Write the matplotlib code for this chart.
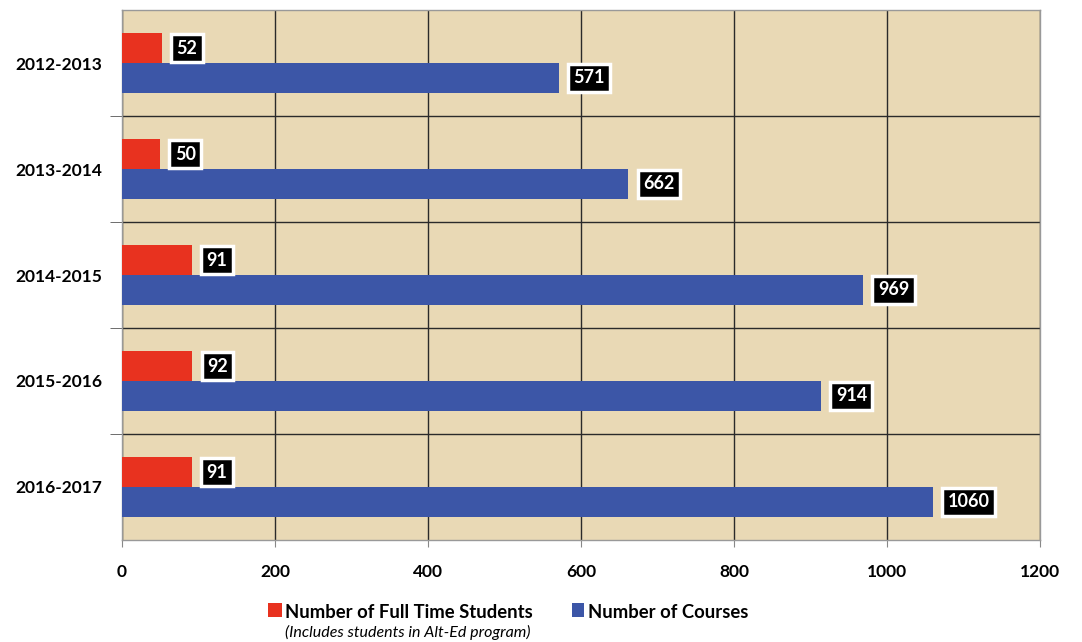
import matplotlib
matplotlib.use("Agg")
import matplotlib.pyplot as plt
from matplotlib.patches import Rectangle
import numpy as np

years = ["2012-2013", "2013-2014", "2014-2015", "2015-2016", "2016-2017"]
students = [52, 50, 91, 92, 91]
courses = [571, 662, 969, 914, 1060]
xticks = [0, 200, 400, 600, 800, 1000, 1200]
legend_labels = ["Number of Full Time Students", "Number of Courses"]
note = "(Includes students in Alt-Ed program)"

RED = "#E8321F"
BLUE = "#3C56A7"
BG = "#E9D9B5"

plt.rcParams['font.family'] = ['Lato', 'DejaVu Sans']

fig = plt.figure(figsize=(10.82, 6.42), dpi=100)
ax = fig.add_axes([0.1128, 0.1589, 0.8484, 0.8255])
ax.set_facecolor(BG)

y = np.arange(len(years))
h = 0.28
ax.barh(y - h / 2, students, height=h, color=RED, zorder=3)
ax.barh(y + h / 2, courses, height=h, color=BLUE, zorder=3)

box = dict(boxstyle="square,pad=0.3", facecolor="black", edgecolor="#FFFFFF", linewidth=2.5)
for i in range(len(years)):
    ax.annotate(str(students[i]), (students[i], y[i] - h / 2), xytext=(10.5, 0),
                textcoords="offset points", va="center", ha="left", color="white",
                fontsize=13, fontweight="bold", bbox=box, zorder=5)
    ax.annotate(str(courses[i]), (courses[i], y[i] + h / 2), xytext=(10.5, 0),
                textcoords="offset points", va="center", ha="left", color="white",
                fontsize=13, fontweight="bold", bbox=box, zorder=5)

ax.set_xlim(0, 1200)
ax.set_ylim(len(years) - 0.5, -0.5)
ax.set_xticks(xticks)
ax.set_xticklabels([str(v) for v in xticks], fontsize=12.5, fontweight="bold")
ax.set_yticks(y)
ax.set_yticklabels(years, fontsize=12.5, fontweight="bold")
ax.set_yticks(np.arange(len(years) - 1) + 0.5, minor=True)
ax.tick_params(axis="y", which="major", length=0, pad=14)
ax.tick_params(axis="y", which="minor", length=9, color="#555555")
ax.tick_params(axis="x", which="major", length=5, color="#888888", pad=12)

ax.grid(axis="x", which="major", color="#2a2a2a", linewidth=1.0, zorder=1)
ax.grid(axis="y", which="minor", color="#2a2a2a", linewidth=1.0, zorder=1)
ax.set_axisbelow(True)
for s in ax.spines.values():
    s.set_color("#999999")
    s.set_linewidth(1.0)

# Legend drawn manually
fig.patches.append(Rectangle((268 / 1082, 1 - 617 / 642), 14 / 1082, 14 / 642,
                             transform=fig.transFigure, facecolor=RED, edgecolor="none"))
fig.text(285 / 1082, 1 - 612 / 642, legend_labels[0], fontsize=13.3, fontweight="bold",
         va="center", ha="left")
fig.text(285 / 1082, 1 - 632 / 642, note, fontsize=11.5, fontstyle="italic",
         va="center", ha="left")
fig.patches.append(Rectangle((572 / 1082, 1 - 617 / 642), 12 / 1082, 14 / 642,
                             transform=fig.transFigure, facecolor=BLUE, edgecolor="none"))
fig.text(588 / 1082, 1 - 612 / 642, legend_labels[1], fontsize=13.3, fontweight="bold",
         va="center", ha="left")

fig.savefig("out.png", dpi=100)
